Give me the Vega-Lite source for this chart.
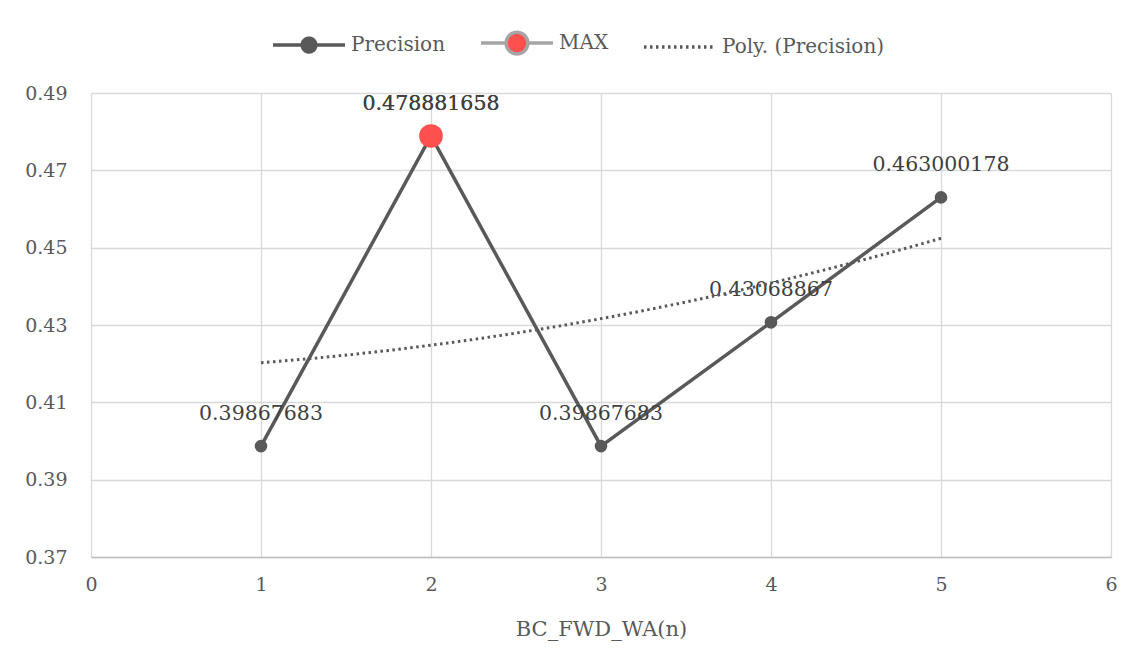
{
  "$schema": "https://vega.github.io/schema/vega-lite/v6.json",
  "width": 1020,
  "height": 464,
  "autosize": {"type": "none"},
  "padding": {"left": 91, "top": 93, "right": 37, "bottom": 114},
  "background": "white",
  "config": {
    "view": {"stroke": null},
    "font": "DejaVu Serif",
    "axis": {
      "labelFont": "DejaVu Serif",
      "labelFontSize": 19,
      "labelColor": "#595959",
      "titleFont": "DejaVu Serif",
      "titleFontSize": 21,
      "titleFontWeight": "normal",
      "titleColor": "#595959",
      "gridColor": "#D9D9D9",
      "gridWidth": 1.3,
      "ticks": false,
      "tickSize": 0,
      "domain": false
    }
  },
  "data": {
    "values": [
      {"n": 1, "precision": 0.39867683, "series": "Precision"},
      {"n": 2, "precision": 0.478881658, "series": "Precision"},
      {"n": 3, "precision": 0.39867683, "series": "Precision"},
      {"n": 4, "precision": 0.43068867, "series": "Precision"},
      {"n": 5, "precision": 0.463000178, "series": "Precision"},
      {"n": 2, "precision": 0.478881658, "series": "MAX"}
    ]
  },
  "layer": [
    {
      "transform": [{"filter": {"field": "series", "equal": "Precision"}}],
      "mark": {"type": "line", "strokeWidth": 3.5},
      "encoding": {
        "x": {
          "field": "n",
          "type": "quantitative",
          "scale": {"domain": [0, 6]},
          "axis": {
            "values": [0, 1, 2, 3, 4, 5, 6],
            "format": "d",
            "title": "BC_FWD_WA(n)",
            "labelPadding": 18,
            "titlePadding": 24,
            "labelFlush": false,
            "domain": true,
            "domainColor": "#BFBFBF",
            "domainWidth": 1.5
          }
        },
        "y": {
          "field": "precision",
          "type": "quantitative",
          "scale": {"domain": [0.37, 0.49], "zero": false},
          "axis": {
            "values": [0.37, 0.39, 0.41, 0.43, 0.45, 0.47, 0.49],
            "format": ".2f",
            "title": null,
            "labelPadding": 24
          }
        },
        "stroke": {
          "field": "series",
          "type": "nominal",
          "scale": {
            "domain": ["Precision", "MAX", "Poly. (Precision)"],
            "range": ["#595959", "#A5A5A5", "#595959"]
          },
          "legend": {
            "orient": "none",
            "legendX": 180,
            "legendY": -88,
            "direction": "horizontal",
            "title": null,
            "symbolType": "circle",
            "symbolSize": 5184,
            "symbolStrokeWidth": 3.5,
            "labelFont": "DejaVu Serif",
            "labelFontSize": 20,
            "labelColor": "#595959",
            "labelLimit": 400,
            "labelOffset": 4,
            "columnPadding": 28,
            "encode": {
              "symbols": {
                "update": {
                  "shape": {"signal": "datum.value === 'Poly. (Precision)' ? 'stroke' : datum.value === 'MAX' ? 'M-1,0H-0.3M0.3,0H1M-0.3,0A0.3,0.3 0 1,0 0.3,0A0.3,0.3 0 1,0 -0.3,0Z' : 'M-1,0H1M-0.19,0A0.19,0.19 0 1,0 0.19,0A0.19,0.19 0 1,0 -0.19,0Z'"},
                  "fill": {"signal": "datum.value === 'MAX' ? '#FF5050' : datum.value === 'Precision' ? '#595959' : 'transparent'"},
                  "strokeDash": {"signal": "datum.value === 'Poly. (Precision)' ? [2.5, 3.5] : [1, 0]"}
                }
              }
            }
          }
        }
      }
    },
    {
      "transform": [{"filter": {"field": "series", "equal": "Precision"}}],
      "mark": {"type": "point", "filled": true, "opacity": 1, "color": "#595959", "size": 160},
      "encoding": {
        "x": {"field": "n", "type": "quantitative"},
        "y": {"field": "precision", "type": "quantitative"}
      }
    },
    {
      "transform": [{"filter": {"field": "series", "equal": "MAX"}}],
      "mark": {"type": "point", "filled": true, "opacity": 1, "color": "#FF5050", "size": 560},
      "encoding": {
        "x": {"field": "n", "type": "quantitative"},
        "y": {"field": "precision", "type": "quantitative"}
      }
    },
    {
      "mark": {"type": "text", "dy": -32, "fontSize": 20.5, "font": "DejaVu Serif", "color": "#404040"},
      "encoding": {
        "x": {"field": "n", "type": "quantitative"},
        "y": {"field": "precision", "type": "quantitative"},
        "text": {"field": "precision", "type": "nominal"}
      }
    },
    {
      "transform": [
        {"filter": {"field": "series", "equal": "Precision"}},
        {"regression": "precision", "on": "n", "method": "poly", "order": 2}
      ],
      "mark": {"type": "line", "strokeDash": [2.5, 3.5], "strokeWidth": 3},
      "encoding": {
        "x": {"field": "n", "type": "quantitative"},
        "y": {"field": "precision", "type": "quantitative"},
        "stroke": {"datum": "Poly. (Precision)"}
      }
    }
  ]
}
